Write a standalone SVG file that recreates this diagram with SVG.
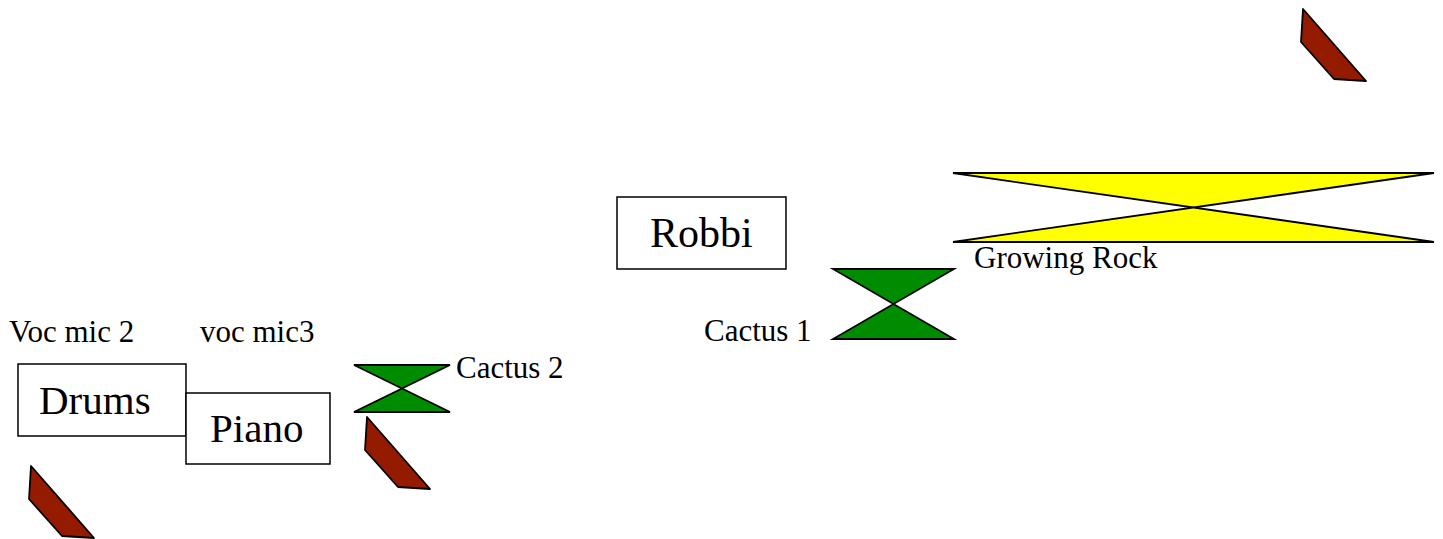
<svg xmlns="http://www.w3.org/2000/svg" width="1443" height="539" viewBox="0 0 1443 539">
<style>
.box{fill:#ffffff;stroke:#000000;stroke-width:1.5}
.cactus{fill:#008c00;stroke:#000000;stroke-width:1.8;stroke-linejoin:miter}
.rock{fill:#ffff00;stroke:#000000;stroke-width:1.8}
.mic{fill:#941a00;stroke:#000000;stroke-width:1.8;stroke-linejoin:round}
.lbl{font-family:"Liberation Serif","Times New Roman",serif;fill:#000000;font-size:31px}
.big{font-family:"Liberation Serif","Times New Roman",serif;fill:#000000;font-size:41px}
</style>
<defs>
<polygon id="micShape" points="2,0 0,33 33,70 65,72"/>
</defs>
<rect width="1443" height="539" fill="#ffffff"/>
<g id="connectors"/>
<g id="voc-mic-2-label"><text class="lbl" x="9" y="342">Voc mic 2</text></g>
<g id="voc-mic3-label"><text class="lbl" x="200" y="342">voc mic3</text></g>
<g id="drums"><rect class="box" x="18" y="364" width="168" height="72"/><text class="big" x="39" y="414">Drums</text></g>
<g id="piano"><rect class="box" x="186" y="393" width="144" height="71"/><text class="big" x="210" y="442">Piano</text></g>
<g id="cactus-2"><polygon class="cactus" points="354,365 450,365 354,412 450,412"/><text class="lbl" x="456" y="378">Cactus 2</text></g>
<g id="robbi"><rect class="box" x="617" y="197" width="169" height="72"/><text class="big" x="650" y="247" style="font-size:42px">Robbi</text></g>
<g id="cactus-1"><polygon class="cactus" points="833,269 954,269 833,339 954,339"/><text class="lbl" x="704" y="341">Cactus 1</text></g>
<g id="growing-rock"><polygon class="rock" points="953,173 1434,173 953,242 1434,242"/><text class="lbl" x="974" y="268">Growing Rock</text></g>
<g id="mic-drums"><use href="#micShape" class="mic" x="29" y="466"/></g>
<g id="mic-cactus2"><use href="#micShape" class="mic" x="365" y="417"/></g>
<g id="mic-topright"><use href="#micShape" class="mic" x="1301" y="9"/></g>
</svg>
